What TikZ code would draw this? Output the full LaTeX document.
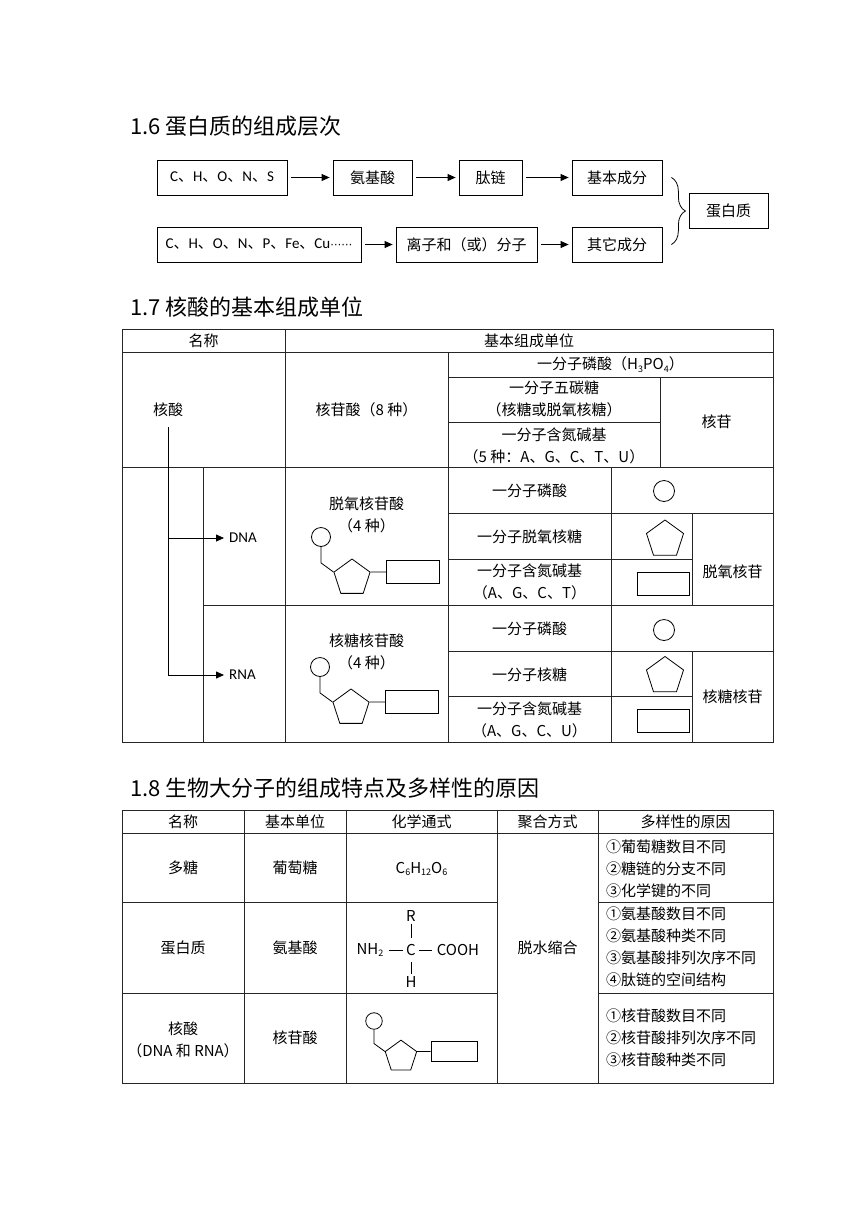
\documentclass[tikz,border=0pt]{standalone}
\usepackage{fontspec}
\setmainfont{Noto Sans CJK SC}
\newfontfamily\latinfont{Carlito}
\newfontfamily\dotsfont{DejaVu Sans}
\usetikzlibrary{arrows.meta,calc,positioning,shapes.geometric,decorations.pathreplacing}
\newcommand{\cellfont}{\fontsize{15}{22}\selectfont}
\newcommand{\titlefont}{\fontsize{22}{26}\selectfont}
\newcommand{\chsub}[1]{\raisebox{-0.35ex}{\fontsize{9}{9}\selectfont #1}}
\newcommand{\lat}[1]{{\latinfont\fontsize{15}{22}\selectfont #1}}
\tikzset{
  unitbox/.style={draw=black, line width=0.8pt, minimum height=35pt, inner sep=0pt, font=\cellfont},
  flow/.style={-{Triangle[length=8pt,width=7pt]}, line width=0.8pt, shorten <=4pt, shorten >=3pt},
  bracket/.style={decorate, decoration={brace, amplitude=14pt}, line width=0.8pt},
  sectitle/.style={anchor=west, font=\titlefont, inner sep=0pt},
  cell/.style={font=\cellfont, inner sep=1pt, align=center},
  reason/.style={font=\cellfont, inner sep=1pt, anchor=west, align=left},
  gridline/.style={line width=0.8pt, black!85},
  bond/.style={line width=0.8pt},
  phosring/.style={circle, draw, line width=0.8pt, minimum size=19pt, inner sep=0pt},
  sugarring/.style={regular polygon, regular polygon sides=5, draw, line width=0.8pt, minimum size=38pt, inner sep=0pt},
  basebox/.style={rectangle, draw, line width=0.8pt, minimum width=53pt, minimum height=23pt, inner sep=0pt},
  nucleotide/.pic={
    \node[phosring] (-p) at (0,0) {};
    \node[sugarring] (-s) at (31,41) {};
    \node[basebox] (-b) at (92,35) {};
    \draw[bond] (-p.south) -- ++(0,16) -- (-s.corner 2);
    \draw[bond] (-s.corner 5) -- (-b.west);
  }
}

\begin{document}
\begin{tikzpicture}[x=1pt,y=-1pt]
  \useasboundingbox (0,0) rectangle (860,1216);

  % 1.6
  \node[sectitle] (title16) at (130,126) {1.6 蛋白质的组成层次};
  \node[unitbox, minimum width=130pt] (elemA) at (222,177.5) {\lat{C}、\lat{H}、\lat{O}、\lat{N}、\lat{S}};
  \node[unitbox, minimum width=79pt] (amino) at (372.5,177.5) {氨基酸};
  \node[unitbox, minimum width=63pt] (peptide) at (490.5,177.5) {肽链};
  \node[unitbox, minimum width=90pt] (basic) at (617,177.5) {基本成分};
  \node[unitbox, minimum width=204pt] (elemB) at (259,244.5)
    {\lat{C}、\lat{H}、\lat{O}、\lat{N}、\lat{P}、\lat{Fe}、\lat{Cu}{\dotsfont\fontsize{11}{14}\selectfont ⋯⋯}};
  \node[unitbox, minimum width=141pt] (ions) at (466.5,244.5) {离子和（或）分子};
  \node[unitbox, minimum width=90pt] (other) at (617,244.5) {其它成分};
  \node[unitbox, minimum width=79pt] (protein) at (728.5,210.5) {蛋白质};
  \draw[flow] (elemA) -- (amino);
  \draw[flow] (amino) -- (peptide);
  \draw[flow] (peptide) -- (basic);
  \draw[flow] (elemB) -- (ions);
  \draw[flow] (ions) -- (other);
  \coordinate (bracetop) at ($(basic.east)+(9,0)$);
  \coordinate (bracebot) at ($(other.east)+(9,0)$);
  \draw[bracket] (bracetop) -- (bracebot);

  % 1.7
  \node[sectitle] (title17) at (130,307) {1.7 核酸的基本组成单位};
  \foreach \xa/\ya/\xb/\yb in {122/352/773/352, 448/377/773/377, 448/422/660/422, 122/467/773/467,
      448/513/773/513, 448/559/692/559, 203/605/773/605, 448/651/773/651, 448/696/692/696,
      285/329/285/742, 448/352/448/742, 660/377/660/467, 203/467/203/742, 611/467/611/742,
      692/513/692/605, 692/651/692/742}
    \draw[gridline] (\xa,\ya) -- (\xb,\yb);
  \draw[gridline] (122,329) rectangle (773,742);
  \node[cell] (hname) at (203.5,341) {名称};
  \node[cell] (hunit) at (529,341) {基本组成单位};
  \node[cell] (nucleic) at (168,410) {核酸};
  \node[cell] (nt8) at (366.5,410) {核苷酸（8 种）};
  \node[cell] (phos) at (610.5,365) {一分子磷酸（H\chsub{3}PO\chsub{4}）};
  \node[cell] (pentose) at (554,399) {一分子五碳糖\\（核糖或脱氧核糖）};
  \node[cell] (bases) at (554,446) {一分子含氮碱基\\（5 种：A、G、C、T、U）};
  \node[cell] (nside) at (716.5,422) {核苷};
  \node[cell, anchor=west, inner sep=2pt] (dna) at (227,538) {\lat{DNA}};
  \node[cell, anchor=west, inner sep=2pt] (rna) at (227,675) {\lat{RNA}};
  \draw[flow, shorten <=9pt] (nucleic.south) |- (rna.west);
  \draw[flow, shorten <=0pt] (nucleic.south |- dna.west) -- (dna.west);

  % DNA
  \node[cell] (deoxynt) at (366.5,515) {脱氧核苷酸\\（4 种）};
  \pic (dnamol) at (321,537) {nucleotide};
  \node[cell] (dphos) at (529.5,491) {一分子磷酸};
  \node[cell] (dsugar) at (529.5,537) {一分子脱氧核糖};
  \node[cell] (dbase) at (529.5,582) {一分子含氮碱基\\（A、G、C、T）};
  \node[cell] (dside) at (732.5,572) {脱氧核苷};
  \node[phosring, minimum size=21pt] (dring) at (664,491) {};
  \node[sugarring, minimum size=39pt] (dsugarring) at (665,539.5) {};
  \node[basebox, minimum width=52pt] (dbasebox) at (663,583.5) {};

  % RNA
  \node[cell] (ribont) at (366.5,652) {核糖核苷酸\\（4 种）};
  \pic (rnamol) at (320,667) {nucleotide};
  \node[cell] (rphos) at (529.5,629) {一分子磷酸};
  \node[cell] (rsugar) at (529.5,675) {一分子核糖};
  \node[cell] (rbase) at (529.5,720) {一分子含氮碱基\\（A、G、C、U）};
  \node[cell] (rside) at (732.5,697) {核糖核苷};
  \node[phosring, minimum size=21pt] (rring) at (664,630) {};
  \node[sugarring, minimum size=39pt] (rsugarring) at (665,676) {};
  \node[basebox, minimum width=52pt] (rbasebox) at (663,721) {};

  % 1.8
  \node[sectitle] (title18) at (130,788) {1.8 生物大分子的组成特点及多样性的原因};
  \foreach \xa/\ya/\xb/\yb in {122/833/773/833, 122/902/497/902, 598/902/773/902, 122/993/497/993,
      598/993/773/993, 244/810/244/1083, 346/810/346/1083, 497/810/497/1083, 598/810/598/1083}
    \draw[gridline] (\xa,\ya) -- (\xb,\yb);
  \draw[gridline] (122,810) rectangle (773,1083);
  \node[cell] (cname) at (183,822) {名称};
  \node[cell] (cunit) at (295,822) {基本单位};
  \node[cell] (cformula) at (421.5,822) {化学通式};
  \node[cell] (cjoin) at (547.5,822) {聚合方式};
  \node[cell] (creason) at (685.5,822) {多样性的原因};
  \node[cell] (poly) at (183,868) {多糖};
  \node[cell] (glucose) at (295,868) {葡萄糖};
  \node[cell] (glcformula) at (421.5,869) {C\chsub{6}H\chsub{12}O\chsub{6}};
  \node[cell] (prot) at (183,948) {蛋白质};
  \node[cell] (aa) at (295,948) {氨基酸};
  \node[cell, inner sep=5pt] (nh2) at (370,950) {NH\chsub{2}};
  \node[cell, inner sep=3pt] (calpha) at (411,950) {C};
  \node[cell, inner sep=5pt] (cooh) at (458,950) {COOH};
  \node[cell, inner sep=2pt] (rgroup) at (411,916) {R};
  \node[cell, inner sep=2pt] (hatom) at (411,982) {H};
  \draw[bond] (nh2) -- (calpha);
  \draw[bond] (calpha) -- (cooh);
  \draw[bond, shorten >=3pt] (rgroup) -- (calpha);
  \draw[bond, shorten <=3pt] (calpha) -- (hatom);
  \node[cell] (nacid) at (183,1040) {核酸\\（DNA 和 RNA）};
  \node[cell] (ntide) at (295,1038) {核苷酸};
  \pic[scale=0.87, transform shape] (acidmol) at (374,1021) {nucleotide};
  \node[cell] (dehyd) at (547.5,948) {脱水缩合};
  \node[reason] (why1) at (605,869) {①葡萄糖数目不同\\②糖链的分支不同\\③化学键的不同};
  \node[reason] (why2) at (605,947) {①氨基酸数目不同\\②氨基酸种类不同\\③氨基酸排列次序不同\\④肽链的空间结构};
  \node[reason] (why3) at (605,1038) {①核苷酸数目不同\\②核苷酸排列次序不同\\③核苷酸种类不同};
\end{tikzpicture}
\end{document}
